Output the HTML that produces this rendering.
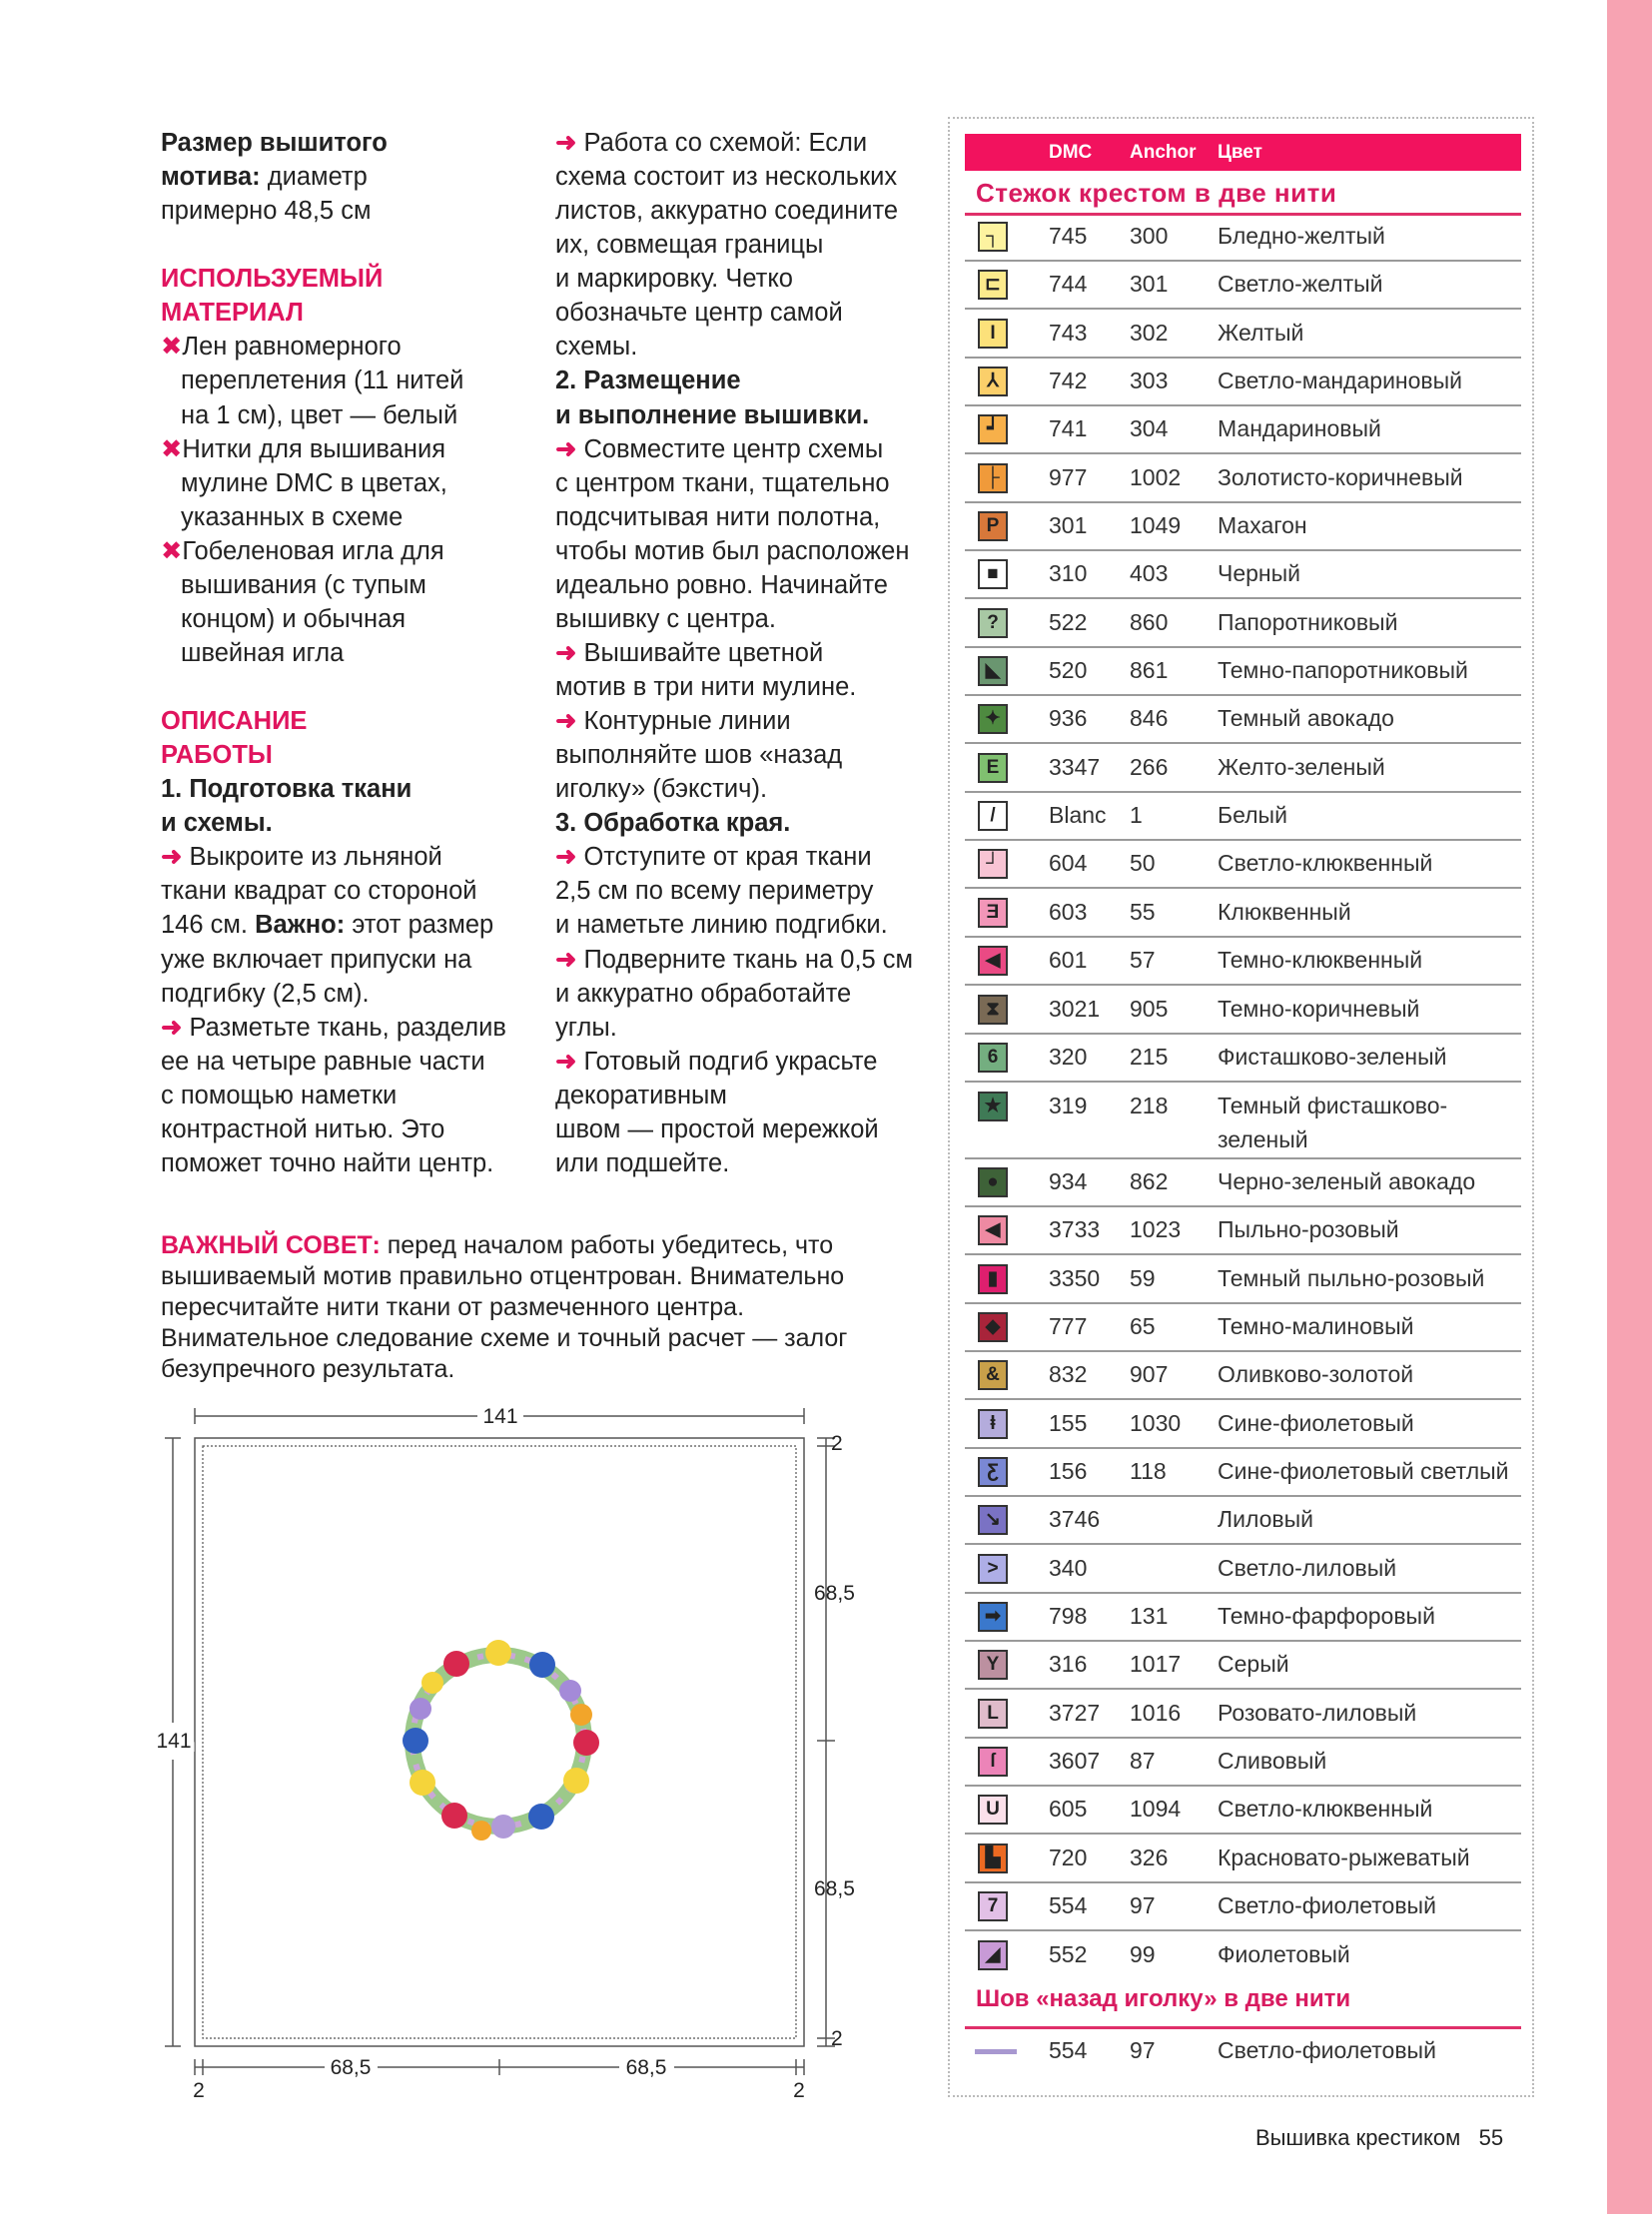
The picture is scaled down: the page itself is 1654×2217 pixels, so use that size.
<!DOCTYPE html>
<html><head><meta charset="utf-8"><style>
body{margin:0;width:1654px;height:2217px;position:relative;background:#fff;font-family:"Liberation Sans",sans-serif;color:#222;overflow:hidden}
.a{position:absolute}
.col{position:absolute;font-size:25.5px;line-height:34.07px;white-space:nowrap}
.pk{color:#e0145e;font-weight:bold}
.ar{color:#e0145e;font-weight:bold}
.x{color:#e0145e}
.in{padding-left:20px}
.row{position:absolute;left:1050px;height:34px;line-height:34px;font-size:23px;color:#333;white-space:nowrap}
.row span{position:absolute}
.sw{position:absolute;left:979px;width:26px;height:26px;border:2px solid #333;font-size:19px;line-height:26px;text-align:center;font-weight:bold;color:#222}
.sep{position:absolute;left:966px;width:557px;height:2px;background:#9a9a9a}
</style></head><body>
<div class="a" style="left:1609px;top:0;width:45px;height:2217px;background:#f7a3b2"></div>

<div class="col" style="left:161px;top:126px">
<b>Размер вышитого</b><br><b>мотива:</b> диаметр<br>примерно 48,5 см<br>&nbsp;<br>
<span class="pk">ИСПОЛЬЗУЕМЫЙ</span><br><span class="pk">МАТЕРИАЛ</span><br>
<span class="x">✖</span>Лен равномерного<br><span class="in">переплетения (11 нитей</span><br><span class="in">на 1 см), цвет — белый</span><br>
<span class="x">✖</span>Нитки для вышивания<br><span class="in">мулине DMC в цветах,</span><br><span class="in">указанных в схеме</span><br>
<span class="x">✖</span>Гобеленовая игла для<br><span class="in">вышивания (с тупым</span><br><span class="in">концом) и обычная</span><br><span class="in">швейная игла</span><br>&nbsp;<br>
<span class="pk">ОПИСАНИЕ</span><br><span class="pk">РАБОТЫ</span><br>
<b>1. Подготовка ткани</b><br><b>и схемы.</b><br>
<span class="ar">➜</span> Выкроите из льняной<br>ткани квадрат со стороной<br>146 см. <b>Важно:</b> этот размер<br>уже включает припуски на<br>подгибку (2,5 см).<br>
<span class="ar">➜</span> Разметьте ткань, разделив<br>ее на четыре равные части<br>с помощью наметки<br>контрастной нитью. Это<br>поможет точно найти центр.
</div>

<div class="col" style="left:556px;top:126px">
<span class="ar">➜</span> Работа со схемой: Если<br>схема состоит из нескольких<br>листов, аккуратно соедините<br>их, совмещая границы<br>и маркировку. Четко<br>обозначьте центр самой<br>схемы.<br>
<b>2. Размещение</b><br><b>и выполнение вышивки.</b><br>
<span class="ar">➜</span> Совместите центр схемы<br>с центром ткани, тщательно<br>подсчитывая нити полотна,<br>чтобы мотив был расположен<br>идеально ровно. Начинайте<br>вышивку с центра.<br>
<span class="ar">➜</span> Вышивайте цветной<br>мотив в три нити мулине.<br>
<span class="ar">➜</span> Контурные линии<br>выполняйте шов «назад<br>иголку» (бэкстич).<br>
<b>3. Обработка края.</b><br>
<span class="ar">➜</span> Отступите от края ткани<br>2,5 см по всему периметру<br>и наметьте линию подгибки.<br>
<span class="ar">➜</span> Подверните ткань на 0,5 см<br>и аккуратно обработайте<br>углы.<br>
<span class="ar">➜</span> Готовый подгиб украсьте<br>декоративным<br>швом — простой мережкой<br>или подшейте.
</div>

<div class="col" style="left:161px;top:1232px;font-size:25px;line-height:31.1px">
<span class="pk">ВАЖНЫЙ СОВЕТ:</span> перед началом работы убедитесь, что<br>вышиваемый мотив правильно отцентрован. Внимательно<br>пересчитайте нити ткани от размеченного центра.<br>Внимательное следование схеме и точный расчет — залог<br>безупречного результата.
</div>

<svg class="a" style="left:0;top:0" width="960" height="2217" viewBox="0 0 960 2217">
<g stroke="#555" stroke-width="1.5" fill="none">
<rect x="195" y="1440" width="610" height="609"/>
<rect x="203" y="1448" width="594" height="593" stroke-dasharray="2 2" stroke-width="1.2"/>
<line x1="195" y1="1418" x2="478" y2="1418"/><line x1="524" y1="1418" x2="805" y2="1418"/>
<line x1="195" y1="1410" x2="195" y2="1426"/><line x1="805" y1="1410" x2="805" y2="1426"/>
<line x1="173" y1="1440" x2="173" y2="1725"/><line x1="173" y1="1762" x2="173" y2="2049"/>
<line x1="165" y1="1440" x2="181" y2="1440"/><line x1="165" y1="2049" x2="181" y2="2049"/>
<line x1="827" y1="1440" x2="827" y2="2049"/>
<line x1="818" y1="1440" x2="836" y2="1440"/><line x1="818" y1="1448" x2="836" y2="1448"/>
<line x1="818" y1="1743" x2="836" y2="1743"/>
<line x1="818" y1="2041" x2="836" y2="2041"/><line x1="818" y1="2049" x2="836" y2="2049"/>
<line x1="195" y1="2070" x2="325" y2="2070"/><line x1="378" y1="2070" x2="620" y2="2070"/><line x1="675" y1="2070" x2="805" y2="2070"/>
<line x1="195" y1="2062" x2="195" y2="2078"/><line x1="203" y1="2062" x2="203" y2="2078"/>
<line x1="500" y1="2062" x2="500" y2="2078"/>
<line x1="797" y1="2062" x2="797" y2="2078"/><line x1="805" y1="2062" x2="805" y2="2078"/>
</g>
<g font-family="Liberation Sans" font-size="21" fill="#222">
<text x="501" y="1425" text-anchor="middle">141</text>
<text x="174" y="1750" text-anchor="middle" style="paint-order:stroke" stroke="#fff" stroke-width="8">141</text>
<text x="832" y="1452">2</text><text x="832" y="2048">2</text>
<text x="815" y="1602">68,5</text><text x="815" y="1898">68,5</text>
<text x="351" y="2077" text-anchor="middle">68,5</text><text x="647" y="2077" text-anchor="middle">68,5</text>
<text x="199" y="2100" text-anchor="middle">2</text><text x="800" y="2100" text-anchor="middle">2</text>
</g>
<g transform="translate(499,1743)">
<circle r="86" fill="none" stroke="#9cc98a" stroke-width="16"/>
<circle r="86" fill="none" stroke="#c9a7d8" stroke-width="6" stroke-dasharray="6 10"/>
<g>
<circle cx="0" cy="-88" r="13" fill="#f5d43a"/><circle cx="44" cy="-76" r="13" fill="#2f5fc0"/>
<circle cx="72" cy="-50" r="11" fill="#a48ad8"/><circle cx="83" cy="-26" r="11" fill="#f2a52a"/>
<circle cx="88" cy="2" r="13" fill="#d8284e"/><circle cx="78" cy="40" r="13" fill="#f5d43a"/>
<circle cx="43" cy="76" r="13" fill="#2f5fc0"/><circle cx="5" cy="86" r="12" fill="#b09ad8"/>
<circle cx="-17" cy="90" r="10" fill="#f2a52a"/><circle cx="-44" cy="75" r="13" fill="#d8284e"/>
<circle cx="-76" cy="42" r="13" fill="#f5d43a"/><circle cx="-83" cy="0" r="13" fill="#2f5fc0"/>
<circle cx="-78" cy="-32" r="11" fill="#a48ad8"/><circle cx="-66" cy="-58" r="11" fill="#f5d43a"/>
<circle cx="-42" cy="-77" r="13" fill="#d8284e"/>
</g></g>
</svg>

<!-- table panel -->
<div class="a" style="left:949px;top:117px;width:583px;height:1979px;border:2px dotted #bbb"></div>
<div class="a" style="left:966px;top:134px;width:557px;height:37px;background:#f2125e"></div>
<div class="a" style="left:1050px;top:134px;line-height:37px;font-size:19px;color:#fff;font-weight:bold">DMC</div>
<div class="a" style="left:1131px;top:134px;line-height:37px;font-size:19px;color:#fff;font-weight:bold">Anchor</div>
<div class="a" style="left:1219px;top:134px;line-height:37px;font-size:19px;color:#fff;font-weight:bold">Цвет</div>
<div class="a" style="left:977px;top:178px;font-size:26px;color:#d81b60;font-weight:bold;letter-spacing:0.5px">Стежок крестом в две нити</div>
<div class="a" style="left:966px;top:213px;width:557px;height:3px;background:#e0306a"></div>

<div class="sw" style="top:222px;background:#fdf3a0">┐</div><div class="row" style="top:219px"><span>745</span><span style="left:81px">300</span><span style="left:169px">Бледно-желтый</span></div><div class="sep" style="top:260px"></div>
<div class="sw" style="top:270px;background:#fbea8c">⊏</div><div class="row" style="top:267px"><span>744</span><span style="left:81px">301</span><span style="left:169px">Светло-желтый</span></div><div class="sep" style="top:308px"></div>
<div class="sw" style="top:319px;background:#fce17a">I</div><div class="row" style="top:316px"><span>743</span><span style="left:81px">302</span><span style="left:169px">Желтый</span></div><div class="sep" style="top:357px"></div>
<div class="sw" style="top:367px;background:#fbcf6a">⅄</div><div class="row" style="top:364px"><span>742</span><span style="left:81px">303</span><span style="left:169px">Светло-мандариновый</span></div><div class="sep" style="top:405px"></div>
<div class="sw" style="top:415px;background:#f7b04a">┙</div><div class="row" style="top:412px"><span>741</span><span style="left:81px">304</span><span style="left:169px">Мандариновый</span></div><div class="sep" style="top:453px"></div>
<div class="sw" style="top:464px;background:#f09a3a">├</div><div class="row" style="top:461px"><span>977</span><span style="left:81px">1002</span><span style="left:169px">Золотисто-коричневый</span></div><div class="sep" style="top:502px"></div>
<div class="sw" style="top:512px;background:#d8783a">P</div><div class="row" style="top:509px"><span>301</span><span style="left:81px">1049</span><span style="left:169px">Махагон</span></div><div class="sep" style="top:550px"></div>
<div class="sw" style="top:560px;background:#fff">■</div><div class="row" style="top:557px"><span>310</span><span style="left:81px">403</span><span style="left:169px">Черный</span></div><div class="sep" style="top:598px"></div>
<div class="sw" style="top:609px;background:#a8c8a4">?</div><div class="row" style="top:606px"><span>522</span><span style="left:81px">860</span><span style="left:169px">Папоротниковый</span></div><div class="sep" style="top:647px"></div>
<div class="sw" style="top:657px;background:#6a9670">◣</div><div class="row" style="top:654px"><span>520</span><span style="left:81px">861</span><span style="left:169px">Темно-папоротниковый</span></div><div class="sep" style="top:695px"></div>
<div class="sw" style="top:705px;background:#4e8a40">✦</div><div class="row" style="top:702px"><span>936</span><span style="left:81px">846</span><span style="left:169px">Темный авокадо</span></div><div class="sep" style="top:743px"></div>
<div class="sw" style="top:754px;background:#80c070">E</div><div class="row" style="top:751px"><span>3347</span><span style="left:81px">266</span><span style="left:169px">Желто-зеленый</span></div><div class="sep" style="top:792px"></div>
<div class="sw" style="top:802px;background:#fff">/</div><div class="row" style="top:799px"><span>Blanc</span><span style="left:81px">1</span><span style="left:169px">Белый</span></div><div class="sep" style="top:840px"></div>
<div class="sw" style="top:850px;background:#f8c4d4">┘</div><div class="row" style="top:847px"><span>604</span><span style="left:81px">50</span><span style="left:169px">Светло-клюквенный</span></div><div class="sep" style="top:888px"></div>
<div class="sw" style="top:899px;background:#f296b8">Ǝ</div><div class="row" style="top:896px"><span>603</span><span style="left:81px">55</span><span style="left:169px">Клюквенный</span></div><div class="sep" style="top:937px"></div>
<div class="sw" style="top:947px;background:#ea4a84">◀</div><div class="row" style="top:944px"><span>601</span><span style="left:81px">57</span><span style="left:169px">Темно-клюквенный</span></div><div class="sep" style="top:985px"></div>
<div class="sw" style="top:996px;background:#7a6a55">⧗</div><div class="row" style="top:993px"><span>3021</span><span style="left:81px">905</span><span style="left:169px">Темно-коричневый</span></div><div class="sep" style="top:1034px"></div>
<div class="sw" style="top:1044px;background:#74ae80">6</div><div class="row" style="top:1041px"><span>320</span><span style="left:81px">215</span><span style="left:169px">Фисташково-зеленый</span></div><div class="sep" style="top:1082px"></div>
<div class="sw" style="top:1093px;background:#3f7a56">★</div><div class="row" style="top:1090px;height:68px"><span>319</span><span style="left:81px">218</span><span style="left:169px;line-height:34px">Темный фисташково-<br>зеленый</span></div><div class="sep" style="top:1159px"></div>
<div class="sw" style="top:1169px;background:#3e6238">●</div><div class="row" style="top:1166px"><span>934</span><span style="left:81px">862</span><span style="left:169px">Черно-зеленый авокадо</span></div><div class="sep" style="top:1207px"></div>
<div class="sw" style="top:1217px;background:#ee8aa2">◀</div><div class="row" style="top:1214px"><span>3733</span><span style="left:81px">1023</span><span style="left:169px">Пыльно-розовый</span></div><div class="sep" style="top:1255px"></div>
<div class="sw" style="top:1266px;background:#de1f6e">▮</div><div class="row" style="top:1263px"><span>3350</span><span style="left:81px">59</span><span style="left:169px">Темный пыльно-розовый</span></div><div class="sep" style="top:1304px"></div>
<div class="sw" style="top:1314px;background:#a8243a">◆</div><div class="row" style="top:1311px"><span>777</span><span style="left:81px">65</span><span style="left:169px">Темно-малиновый</span></div><div class="sep" style="top:1352px"></div>
<div class="sw" style="top:1362px;background:#c8a04a">&amp;</div><div class="row" style="top:1359px"><span>832</span><span style="left:81px">907</span><span style="left:169px">Оливково-золотой</span></div><div class="sep" style="top:1400px"></div>
<div class="sw" style="top:1411px;background:#b4acdc">ⱡ</div><div class="row" style="top:1408px"><span>155</span><span style="left:81px">1030</span><span style="left:169px">Сине-фиолетовый</span></div><div class="sep" style="top:1449px"></div>
<div class="sw" style="top:1459px;background:#7a88d4">Ƹ</div><div class="row" style="top:1456px"><span>156</span><span style="left:81px">118</span><span style="left:169px">Сине-фиолетовый светлый</span></div><div class="sep" style="top:1497px"></div>
<div class="sw" style="top:1507px;background:#7a72c4">↘</div><div class="row" style="top:1504px"><span>3746</span><span style="left:169px">Лиловый</span></div><div class="sep" style="top:1545px"></div>
<div class="sw" style="top:1556px;background:#aeaee6">&gt;</div><div class="row" style="top:1553px"><span>340</span><span style="left:169px">Светло-лиловый</span></div><div class="sep" style="top:1594px"></div>
<div class="sw" style="top:1604px;background:#3a78cc">➡</div><div class="row" style="top:1601px"><span>798</span><span style="left:81px">131</span><span style="left:169px">Темно-фарфоровый</span></div><div class="sep" style="top:1642px"></div>
<div class="sw" style="top:1652px;background:#bc90a0">Y</div><div class="row" style="top:1649px"><span>316</span><span style="left:81px">1017</span><span style="left:169px">Серый</span></div><div class="sep" style="top:1690px"></div>
<div class="sw" style="top:1701px;background:#e0bccb">L</div><div class="row" style="top:1698px"><span>3727</span><span style="left:81px">1016</span><span style="left:169px">Розовато-лиловый</span></div><div class="sep" style="top:1739px"></div>
<div class="sw" style="top:1749px;background:#ec84b8">ſ</div><div class="row" style="top:1746px"><span>3607</span><span style="left:81px">87</span><span style="left:169px">Сливовый</span></div><div class="sep" style="top:1787px"></div>
<div class="sw" style="top:1797px;background:#fbe0ea">U</div><div class="row" style="top:1794px"><span>605</span><span style="left:81px">1094</span><span style="left:169px">Светло-клюквенный</span></div><div class="sep" style="top:1835px"></div>
<div class="sw" style="top:1846px;background:#ec6a22">▙</div><div class="row" style="top:1843px"><span>720</span><span style="left:81px">326</span><span style="left:169px">Красновато-рыжеватый</span></div><div class="sep" style="top:1884px"></div>
<div class="sw" style="top:1894px;background:#e2c0e6">7</div><div class="row" style="top:1891px"><span>554</span><span style="left:81px">97</span><span style="left:169px">Светло-фиолетовый</span></div><div class="sep" style="top:1932px"></div>
<div class="sw" style="top:1943px;background:#c89ad6">◢</div><div class="row" style="top:1940px"><span>552</span><span style="left:81px">99</span><span style="left:169px">Фиолетовый</span></div>

<div class="a" style="left:977px;top:1988px;font-size:24px;color:#d81b60;font-weight:bold">Шов «назад иголку» в две нити</div>
<div class="a" style="left:966px;top:2029px;width:557px;height:3px;background:#e0306a"></div>
<div class="a" style="left:976px;top:2052px;width:42px;height:5px;background:#a898d0"></div>
<div class="row" style="top:2036px"><span>554</span><span style="left:81px">97</span><span style="left:169px">Светло-фиолетовый</span></div>

<div class="a" style="left:1257px;top:2128px;font-size:22px;color:#222;white-space:nowrap">Вышивка крестиком&nbsp;&nbsp;&nbsp;55</div>
</body></html>
